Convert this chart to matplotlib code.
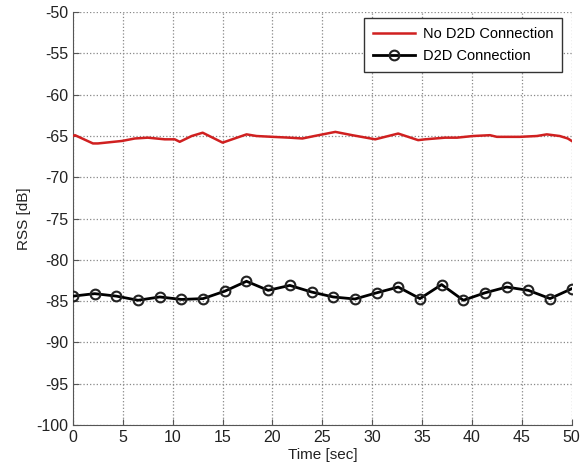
import numpy as np
import matplotlib.pyplot as plt

plt.rcParams['font.family'] = ['Liberation Sans Narrow', 'Liberation Sans', 'DejaVu Sans']
plt.rcParams['axes.unicode_minus'] = False

# RSS without D2D connection (red line)
t_no = [0, 0.2, 2.0, 2.5, 4.9, 6.2, 7.5, 9.2, 10.2, 10.7, 11.9, 13.0, 15.0, 17.4,
        18.4, 20.0, 21.7, 23.0, 24.2, 26.3, 28.0, 30.3, 32.6, 34.6, 35.3, 37.3,
        38.5, 40.1, 41.8, 42.5, 44.8, 46.5, 47.5, 48.8, 49.6, 50]
rss_no = [-65.0, -64.9, -65.9, -65.9, -65.6, -65.3, -65.2, -65.4, -65.4, -65.7, -65.0,
          -64.6, -65.8, -64.8, -65.0, -65.1, -65.2, -65.3, -65.0, -64.5, -64.9, -65.4,
          -64.7, -65.5, -65.4, -65.2, -65.2, -65.0, -64.9, -65.1, -65.1, -65.0, -64.8,
          -65.0, -65.3, -65.6]

# RSS with D2D connection (black line with circles)
t_d2d = np.linspace(0, 50, 24)
rss_d2d = [-84.4, -84.1, -84.4, -84.9, -84.5, -84.8, -84.7, -83.8, -82.6, -83.7,
           -83.1, -83.9, -84.5, -84.75, -84.0, -83.3, -84.7, -83.0, -84.9, -84.0,
           -83.3, -83.7, -84.7, -83.5]

xticks = np.arange(0, 51, 5)
yticks = np.arange(-100, -49, 5)

fig = plt.figure(figsize=(5.84, 4.70), dpi=100)
ax = fig.add_axes([0.125, 0.096, 0.854, 0.878])

ax.plot(t_no, rss_no, color='#d02020', lw=1.8, label='No D2D Connection', zorder=3)
ax.plot(t_d2d, rss_d2d, color='black', lw=2.0, marker='o', ms=7, mfc='none',
        mec='#222222', mew=1.5, label='D2D Connection', zorder=4)

ax.set_xlim(0, 50)
ax.set_ylim(-100, -50)
ax.set_xticks(xticks)
ax.set_yticks(yticks)
ax.grid(True, linestyle=':', color='#888888', lw=0.9)
ax.spines['top'].set_visible(False)
ax.spines['right'].set_visible(False)
ax.spines['left'].set_color('#555555')
ax.spines['bottom'].set_color('#555555')
ax.tick_params(direction='in', length=4, color='#555555', labelsize=11.5,
               labelcolor='#222222')

ax.set_xlabel('Time [sec]', fontsize=11, color='#222222', labelpad=2)
ax.set_ylabel('RSS [dB]', fontsize=11, color='#222222', labelpad=4)

leg = ax.legend(loc='upper right', bbox_to_anchor=(0.98, 0.986), borderaxespad=0,
                fontsize=10.5, fancybox=False, edgecolor='#333333', framealpha=1,
                handlelength=2.9, handletextpad=0.5, borderpad=0.6,
                labelspacing=0.55)
leg.get_frame().set_linewidth(1.0)

fig.savefig('out.png', dpi=100)
